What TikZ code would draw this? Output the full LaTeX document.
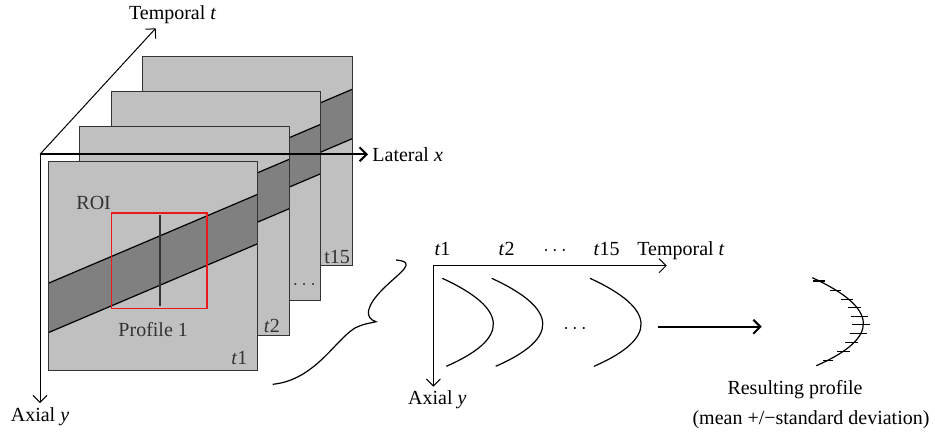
\documentclass[tikz,border=0pt]{standalone}
\usepackage{fontspec}
\setmainfont{Liberation Serif}
\usetikzlibrary{arrows.meta, positioning, calc}
\definecolor{framegray}{RGB}{192,192,192}
\definecolor{bandgray}{RGB}{128,128,128}
\definecolor{edgegray}{RGB}{51,51,51}
\definecolor{roired}{RGB}{235,25,25}

\begin{document}
\begin{tikzpicture}[
    x=0.5pt, y=-0.5pt,
    every node/.style={inner sep=1pt},
    frame/.style={rectangle, draw=edgegray, fill=framegray, line width=0.7pt, minimum width=104.75pt, minimum height=104.5pt, inner sep=0pt, outer sep=0pt},
    bandedge/.style={line width=0.6pt},
    axis/.style={-{Straight Barb[length=3.5pt, width=7pt]}, line width=0.5pt},
    curve/.style={line width=0.6pt},
    errbar/.style={line width=0.6pt},
    profile/.pic={\draw[curve] (0,0) .. controls (66.7,30.7) and (68,60) .. (4,88);}
]
\useasboundingbox (0,0) rectangle (935,433);

% image stack, back to front
\foreach \i/\cx/\cy in {4/247.5/161.2, 3/216/196.2, 2/184.5/231.2, 1/153/266.2} {
    \node[frame] (f\i) at (\cx,\cy) {};
    \fill[bandgray] ($(f\i.north west)+(0,121.6)$) -- ($(f\i.north east)+(0,32.6)$) -- ($(f\i.north east)+(0,82)$) -- ($(f\i.north west)+(0,171)$) -- cycle;
    \draw[bandedge] ($(f\i.north west)+(0,121.6)$) -- ($(f\i.north east)+(0,32.6)$);
    \draw[bandedge] ($(f\i.north west)+(0,171)$) -- ($(f\i.north east)+(0,82)$);
    \draw[edgegray, line width=0.7pt] (f\i.north west) rectangle (f\i.south east);
}
\node[anchor=south east, text=edgegray] at (f4.south east) {t15};
\node[text=edgegray] at ($(f3.south east)+(-16.5,-16)$) {$\cdots$};
\node[anchor=south east, text=edgegray] at ($(f2.south east)+(-7,-1)$) {\textit{t}2};
\node[anchor=south east, text=edgegray] at ($(f1.south east)+(-8,-4)$) {\textit{t}1};

% region of interest
\node[minimum width=47.5pt, minimum height=47.2pt, inner sep=0pt] (roi) at (159.2,260.85) {};
\draw[line width=0.7pt, edgegray] ($(roi.north)+(0.8,2)$) -- ($(roi.south)+(0.8,-2)$);
\draw[roired, line width=0.8pt] (roi.north west) rectangle (roi.south east);
\node[anchor=south east, text=edgegray] at ($(roi.north west)+(2,-1)$) {ROI};
\node[below=6pt of roi.south, xshift=-3pt, text=edgegray] {Profile 1};

% axes of the stack
\coordinate (o) at (40,154.3);
\coordinate (tt) at (155.7,28.3);
\coordinate (lx) at (368,154.3);
\coordinate (ay) at (40,403);
\draw[axis] (o) -- (tt);
\draw[axis, line width=1pt] (o) -- (lx);
\draw[axis] (o) -- (ay);
\node[above=1pt of tt, xshift=8.5pt] {Temporal \textit{t}};
\node[right=1pt of lx] {Lateral \textit{x}};
\node[below=1pt of ay] {Axial \textit{y}};

% wavy link
\coordinate (wa) at (272.7,384.3);
\coordinate (wb) at (396,260);
\draw[curve] (wa) .. controls (315,380) and (335,340) .. (355,328)
    .. controls (365,323) and (372,323) .. (376,321.7)
    .. controls (364,318) and (366,306) .. (383,289)
    .. controls (400,272) and (418,262) .. (wb);

% profiles over time
\coordinate (po) at (433.3,265.7);
\coordinate (pt) at (666.7,265.7);
\coordinate (py) at (433.3,386.7);
\draw[axis] (po) -- (pt);
\draw[axis] (po) -- (py);
\node[below=1pt of py, xshift=2pt] {Axial \textit{y}};
\node[anchor=base] at (442.5,255) {\textit{t}1};
\node[anchor=base] at (506.7,255) {\textit{t}2};
\node[anchor=base] at (555,255) {$\cdots$};
\node[anchor=base] at (606.7,255) {\textit{t}15};
\node[anchor=base] at (681,255) {Temporal \textit{t}};
\pic at (442.3,278.3) {profile};
\pic at (491.7,278.3) {profile};
\pic at (590,278.3) {profile};
\node at (575,329) {$\cdots$};

% resulting profile
\coordinate (ra) at (657.7,326.7);
\coordinate (rb) at (761.7,326.7);
\draw[axis, line width=1pt] (ra) -- (rb);
\pic at (812.3,277.7) {profile};
\foreach \ya/\xl/\xr in {281/813.3/825, 290.7/830/840.7, 299.3/840.7/852.7, 307.7/848.3/861, 316.7/851/868.3, 324.3/851.7/870, 333.3/850/867.3, 342.3/845/858.3, 351.7/837.3/850, 360.7/823.3/833.3}
    \draw[errbar] (\xl,\ya) -- (\xr,\ya);
\node at (795,390) {Resulting profile};
\node at (811,420) {(mean +/−standard deviation)};
\end{tikzpicture}
\end{document}
